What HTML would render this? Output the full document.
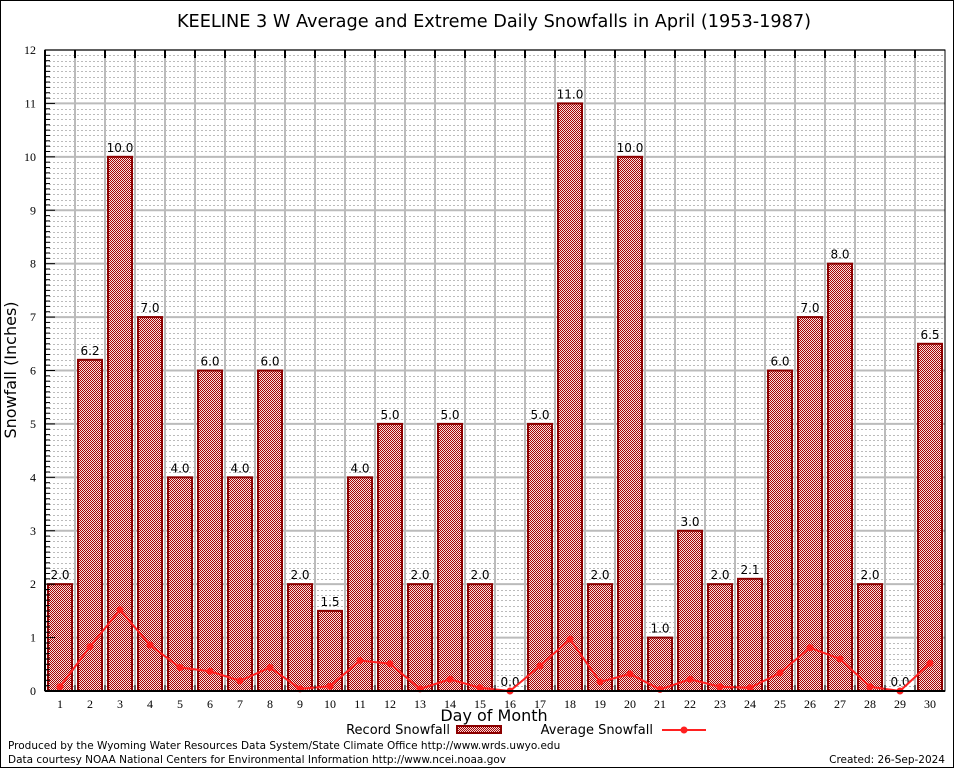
<!DOCTYPE html>
<html><head><meta charset="utf-8"><style>
body{margin:0;background:#fff;}
svg{display:block;font-family:"DejaVu Sans","Liberation Sans",sans-serif;}
</style></head><body>
<svg id="chart" width="954" height="768" xmlns="http://www.w3.org/2000/svg">
<defs>
<pattern id="chk" width="2" height="2" patternUnits="userSpaceOnUse">
<rect width="2" height="2" fill="#f4e0e0"/>
<rect width="1" height="1" fill="#a80000"/>
<rect x="1" y="1" width="1" height="1" fill="#a80000"/>
</pattern>
</defs>
<rect x="0.5" y="0.5" width="953" height="767" fill="#fff" stroke="#000"/>
<text x="494" y="27" font-size="17.7" text-anchor="middle">KEELINE 3 W Average and Extreme Daily Snowfalls in April (1953-1987)</text>
<g id="grid"></g>
<g id="bars"></g>
<g id="line"></g>
<g id="axes"></g>
<text x="16" y="370" font-size="16" text-anchor="middle" transform="rotate(-90 16 370)">Snowfall (Inches)</text>
<text x="494" y="721" font-size="16" text-anchor="middle">Day of Month</text>
<g>
<text x="450" y="734" font-size="13" text-anchor="end">Record Snowfall</text>
<rect x="457" y="726" width="44" height="7" fill="url(#chk)" stroke="#8b0000" stroke-width="2"/>
<text x="653" y="734" font-size="13" text-anchor="end">Average Snowfall</text>
<line x1="662" y1="730" x2="706" y2="730" stroke="#ff2020" stroke-width="2"/>
<circle cx="684" cy="730" r="3.5" fill="#ff2020"/>
</g>
<text x="8" y="749" font-size="10.5">Produced by the Wyoming Water Resources Data System/State Climate Office http://www.wrds.uwyo.edu</text>
<text x="8" y="763" font-size="10.5">Data courtesy NOAA National Centers for Environmental Information http://www.ncei.noaa.gov</text>
<text x="945" y="763" font-size="10.5" text-anchor="end">Created:  26-Sep-2024</text>
</svg>
<script>
const days = [1,2,3,4,5,6,7,8,9,10,11,12,13,14,15,16,17,18,19,20,21,22,23,24,25,26,27,28,29,30];
const recordSnow = [2.0,6.2,10.0,7.0,4.0,6.0,4.0,6.0,2.0,1.5,4.0,5.0,2.0,5.0,2.0,0.0,5.0,11.0,2.0,10.0,1.0,3.0,2.0,2.1,6.0,7.0,8.0,2.0,0.0,6.5];
const avgSnow = [0.08,0.83,1.52,0.86,0.44,0.37,0.19,0.44,0.04,0.09,0.57,0.51,0.04,0.22,0.06,0.0,0.47,0.97,0.17,0.32,0.03,0.22,0.08,0.06,0.34,0.81,0.6,0.08,0.0,0.52];
const yTicks = [0,1,2,3,4,5,6,7,8,9,10,11,12];

const L=45,R=945,T=50,B=691,yMax=12;
const slot=(R-L)/days.length;
const xc=d=>L+(d-0.5)*slot;
const y=v=>B-(v/yMax)*(B-T);
const NS="http://www.w3.org/2000/svg";
function mk(tag,attrs,parent){const e=document.createElementNS(NS,tag);for(const k in attrs)e.setAttribute(k,attrs[k]);parent.appendChild(e);return e;}
const grid=document.getElementById('grid'),bars=document.getElementById('bars'),line=document.getElementById('line'),axes=document.getElementById('axes');

for(let i=1;i<yMax*10;i++){ if(i%10===0)continue;
  const g=mk('line',{x1:L,x2:R,y1:Math.round(y(i/10))+0.5,y2:Math.round(y(i/10))+0.5,stroke:'#bbb','stroke-width':1,'stroke-dasharray':'2,2'},grid);
  
  
}
yTicks.forEach(t=>{
  const g=mk('line',{x1:L,x2:R,y1:y(t),y2:y(t),stroke:'#bbb','stroke-width':2},grid);
  
  
  const tk=mk('line',{x1:L,x2:L+10,y1:y(t),y2:y(t),stroke:'#000','stroke-width':1},axes);
  
  
  const lb=mk('text',{x:L-9,y:y(t)+4,'font-size':12,'text-anchor':'end','font-family':'Liberation Serif, serif'},axes);
  lb.textContent=t;
  
  
});
for(let i=1;i<yMax*10;i++){ if(i%10===0)continue;
  const tk=mk('line',{x1:L,x2:L+5,y1:y(i/10),y2:y(i/10),stroke:'#000'},axes);
  
  
}
for(let k=1;k<days.length;k++){
  const xx=L+k*slot;
  const g=mk('line',{x1:xx,x2:xx,y1:T,y2:B,stroke:'#bbb','stroke-width':2},grid);
  
  
  const tk=mk('line',{x1:xx,x2:xx,y1:T,y2:T+8,stroke:'#000','stroke-width':2},axes);
  
  
  const tb=mk('line',{x1:xx,x2:xx,y1:B,y2:B-6,stroke:'#000','stroke-width':1},axes);
  
  
}
days.forEach((d,i)=>{
  const v=recordSnow[i];
  const r=mk('rect',{x:xc(d)-12,y:y(v),width:24,height:B-y(v),fill:'url(#chk)',stroke:'#8b0000','stroke-width':2},bars);
  
  
  const t=mk('text',{x:xc(d),y:y(v)-5,'font-size':12,'text-anchor':'middle'},bars);
  t.textContent=v.toFixed(1);
  
  
  const xl=mk('text',{x:xc(d),y:B+17,'font-size':12,'text-anchor':'middle','font-family':'Liberation Serif, serif'},axes);
  xl.textContent=d;
  
  
});
const pts=days.map((d,i)=>xc(d)+','+y(avgSnow[i])).join(' ');
const pl=mk('polyline',{points:pts,fill:'none',stroke:'#ff2020','stroke-width':2},line);


days.forEach((d,i)=>{
  const c=mk('circle',{cx:xc(d),cy:y(avgSnow[i]),r:3.5,fill:'#ff2020'},line);
  
  
});
const fr=mk('rect',{x:L,y:T,width:R-L,height:B-T,fill:'none',stroke:'#000','stroke-width':1},axes);


const xa=mk('line',{x1:L,x2:R,y1:B,y2:B,stroke:'#000','stroke-width':2},axes);


const ya=mk('line',{x1:L,x2:L,y1:T,y2:B,stroke:'#000','stroke-width':2},axes);


</script>
</body></html>
